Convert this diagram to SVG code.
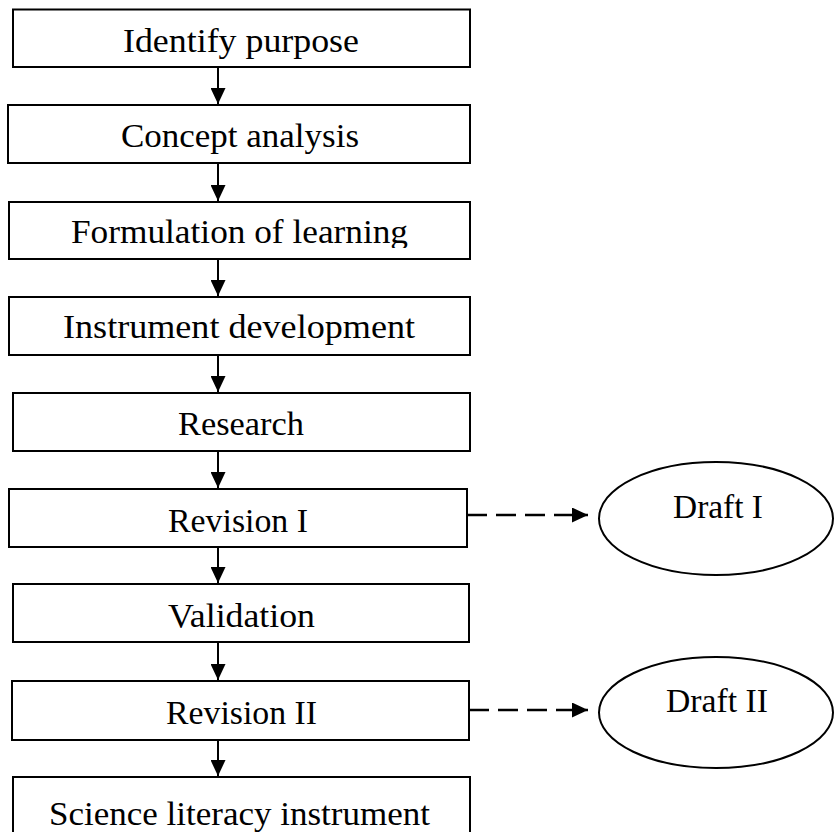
<svg xmlns="http://www.w3.org/2000/svg" width="835" height="832" viewBox="0 0 835 832">
  <defs>
    <style>
      .box { fill: #fff; stroke: #000; stroke-width: 2; }
      .ell { fill: #fff; stroke: #000; stroke-width: 2; }
      .lbl { font-family: "Liberation Serif", "Times New Roman", serif; font-size: 34.5px; fill: #000; }
      .arrow { stroke: #000; stroke-width: 2; fill: none; marker-end: url(#head); }
      .dash { stroke: #000; stroke-width: 2.5; fill: none; stroke-dasharray: 20 9; marker-end: url(#head); }
    </style>
    <marker id="head" viewBox="0 0 16 15" refX="16" refY="7.5" markerWidth="16" markerHeight="15" markerUnits="userSpaceOnUse" orient="auto">
      <path d="M0,0 L16,7.5 L0,15 Z" fill="#000"/>
    </marker>
    <clipPath id="clip3"><rect x="0" y="200" width="480" height="48"/></clipPath>
  </defs>
  <rect width="835" height="832" fill="#fff"/>

  <g id="connectors">
    <line class="arrow" x1="218" y1="67" x2="218" y2="104"/>
    <line class="arrow" x1="218" y1="163" x2="218" y2="201"/>
    <line class="arrow" x1="218" y1="259" x2="218" y2="296"/>
    <line class="arrow" x1="218" y1="355" x2="218" y2="392"/>
    <line class="arrow" x1="218" y1="451" x2="218" y2="488"/>
    <line class="arrow" x1="218" y1="547" x2="218" y2="583"/>
    <line class="arrow" x1="218" y1="642" x2="218" y2="680"/>
    <line class="arrow" x1="218" y1="740" x2="218" y2="776"/>
    <line class="dash" x1="467" y1="515" x2="588" y2="515"/>
    <line class="dash" x1="469" y1="710" x2="588" y2="710"/>
  </g>

  <g id="n1"><rect class="box" x="13" y="9.5" width="457" height="57.5"/>
    <text class="lbl" x="123" y="52" textLength="236" lengthAdjust="spacingAndGlyphs">Identify purpose</text></g>
  <g id="n2"><rect class="box" x="8" y="105" width="462" height="58"/>
    <text class="lbl" x="121" y="147" textLength="238" lengthAdjust="spacingAndGlyphs">Concept analysis</text></g>
  <g id="n3"><rect class="box" x="9" y="202" width="461" height="57"/>
    <text class="lbl" x="71" y="243" textLength="337" lengthAdjust="spacingAndGlyphs" clip-path="url(#clip3)">Formulation of learning</text></g>
  <g id="n4"><rect class="box" x="9" y="297" width="461" height="58"/>
    <text class="lbl" x="63" y="338" textLength="352" lengthAdjust="spacingAndGlyphs">Instrument development</text></g>
  <g id="n5"><rect class="box" x="13" y="393" width="457" height="58"/>
    <text class="lbl" x="178" y="435" textLength="126" lengthAdjust="spacingAndGlyphs">Research</text></g>
  <g id="n6"><rect class="box" x="9" y="489" width="458" height="58"/>
    <text class="lbl" x="168" y="532" textLength="140" lengthAdjust="spacingAndGlyphs">Revision I</text></g>
  <g id="n7"><rect class="box" x="13" y="584" width="456" height="58"/>
    <text class="lbl" x="168" y="627" textLength="147" lengthAdjust="spacingAndGlyphs">Validation</text></g>
  <g id="n8"><rect class="box" x="12" y="681" width="457" height="59"/>
    <text class="lbl" x="166" y="724" textLength="151" lengthAdjust="spacingAndGlyphs">Revision II</text></g>
  <g id="n9"><rect class="box" x="13" y="777" width="457" height="56"/>
    <text class="lbl" x="49" y="825" textLength="381" lengthAdjust="spacingAndGlyphs">Science literacy instrument</text></g>

  <g id="d1"><ellipse class="ell" cx="716" cy="518.5" rx="117" ry="56.5"/>
    <text class="lbl" x="673" y="518" textLength="90" lengthAdjust="spacingAndGlyphs">Draft I</text></g>
  <g id="d2"><ellipse class="ell" cx="716" cy="712.5" rx="117" ry="55.5"/>
    <text class="lbl" x="666" y="712" textLength="102" lengthAdjust="spacingAndGlyphs">Draft II</text></g>
</svg>
